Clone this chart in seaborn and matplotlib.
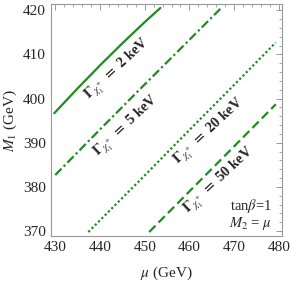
import matplotlib
matplotlib.use('Agg')
import matplotlib.pyplot as plt
import seaborn as sns
import pandas as pd
from matplotlib.ticker import MultipleLocator

sns.set_style('white')
plt.rcParams['font.family'] = ['Liberation Serif', 'DejaVu Serif']
plt.rcParams['mathtext.fontset'] = 'stix'
plt.rcParams['font.size'] = 10

# curves (mu, M1) in GeV
mu_2kev = [429.8, 435.0, 440.0, 445.0, 450.0, 453.5]
m1_2kev = [396.7, 402.3, 407.5, 412.5, 417.3, 420.5]
mu_5kev = [430.0, 440.0, 450.0, 460.0, 467.0]
m1_5kev = [382.7, 393.0, 403.2, 413.3, 420.4]
mu_20kev = [437.4, 450.0, 460.0, 470.0, 479.3]
m1_20kev = [369.8, 382.6, 392.9, 403.1, 412.7]
mu_50kev = [451.0, 460.0, 470.0, 479.3]
m1_50kev = [369.8, 379.0, 389.2, 398.7]

labels = ['2', '5', '20', '50']
label_mu = [444.0, 446.0, 464.6, 466.8]
label_m1 = [406.6, 393.7, 392.5, 381.3]

green = '#1e8c1e'
styles = [None, (4, 1.4, 1, 1.4), (1, 1.1), (4, 2)]

fig = plt.figure(figsize=(2.9, 2.84), dpi=100)
ax = fig.add_axes([0.175, 0.169, 0.796, 0.817])

curves = [(mu_2kev, m1_2kev), (mu_5kev, m1_5kev), (mu_20kev, m1_20kev), (mu_50kev, m1_50kev)]
for (x, y), dash in zip(curves, styles):
    df = pd.DataFrame({'mu': x, 'M1': y})
    sns.lineplot(data=df, x='mu', y='M1', ax=ax, color=green, lw=1.6, sort=False)
    if dash is not None:
        ax.lines[-1].set_dashes(dash)

for lab, x, y in zip(labels, label_mu, label_m1):
    ax.text(x, y, r'$\mathbf{\Gamma}_{\chi_1^+}$ $\mathbf{=}$ ' + lab + ' keV', rotation=43,
            ha='center', va='center', fontsize=10.5, fontweight='bold',
            rotation_mode='anchor')

ax.text(0.96, 0.13, r'tan$\beta$=1', transform=ax.transAxes, ha='right', va='center', fontsize=10.5)
ax.text(0.96, 0.056, r'$M_2$ = $\mu$', transform=ax.transAxes, ha='right', va='center', fontsize=10.5)

ax.set_xlim(429.0, 480.6)
ax.set_ylim(368.9, 421.4)
ax.xaxis.set_major_locator(MultipleLocator(10))
ax.xaxis.set_minor_locator(MultipleLocator(2))
ax.yaxis.set_major_locator(MultipleLocator(10))
ax.yaxis.set_minor_locator(MultipleLocator(2))
ax.tick_params(which='both', direction='in', top=True, right=True, color='#999999', labelsize=11)
ax.tick_params(which='major', length=4, width=0.7)
ax.tick_params(which='minor', length=2, width=0.6)
for s in ax.spines.values():
    s.set_color('#999999')
    s.set_linewidth(0.8)

ax.set_xlabel(r'$\mu$ (GeV)', fontsize=11, labelpad=8)
ax.set_ylabel(r'$M_1$ (GeV)', fontsize=11, labelpad=3)

fig.savefig('out.png', dpi=100)
